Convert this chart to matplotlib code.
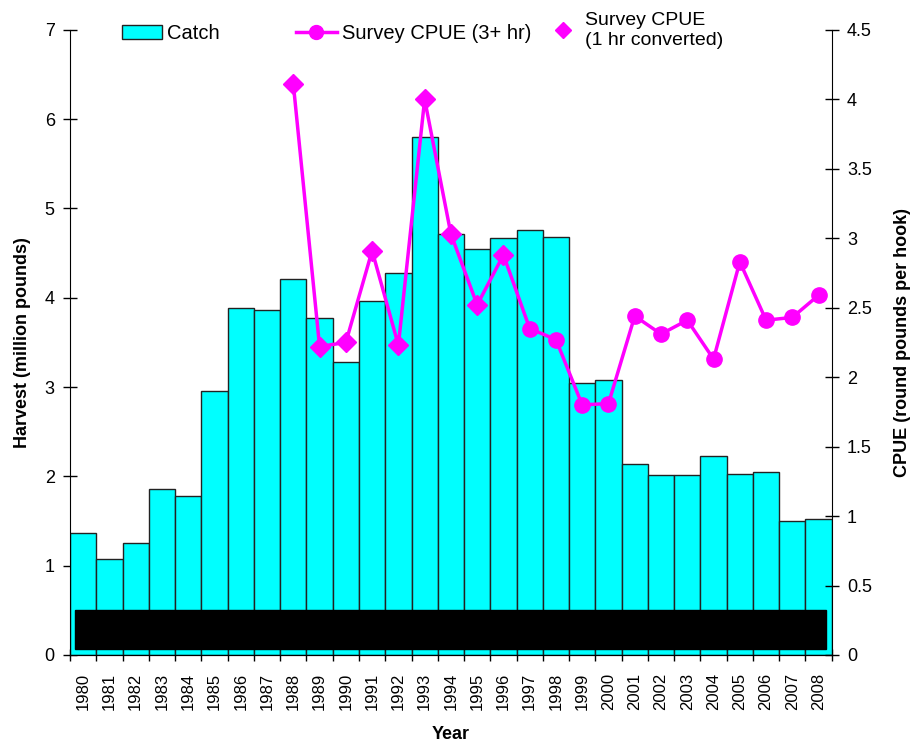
import numpy as np
import matplotlib
matplotlib.use("Agg")
import matplotlib.pyplot as plt
from matplotlib.patches import Rectangle
from matplotlib.lines import Line2D

plt.rcParams['font.family'] = ['Liberation Sans', 'DejaVu Sans']

years = list(range(1980, 2009))
catch = [1.37, 1.07, 1.25, 1.86, 1.78, 2.96, 3.89, 3.86, 4.21, 3.77,
         3.28, 3.96, 4.28, 5.80, 4.71, 4.55, 4.67, 4.76, 4.68, 3.05,
         3.08, 2.14, 2.02, 2.02, 2.23, 2.03, 2.05, 1.50, 1.52]

# survey CPUE, 1 hr sets converted (1988-1996)
conv_years = list(range(1988, 1997))
cpue_conv = [4.11, 2.22, 2.25, 2.91, 2.23, 4.00, 3.03, 2.52, 2.88]

# survey CPUE, 3+ hr sets (1997-2008)
long_years = list(range(1997, 2009))
cpue_long = [2.35, 2.27, 1.80, 1.81, 2.44, 2.31, 2.41, 2.13, 2.83, 2.41, 2.43, 2.59]

magenta = '#ff00ff'

fig = plt.figure(figsize=(9.1, 7.46), dpi=100)
ax = fig.add_axes([0.077, 0.122, 0.837, 0.838])
x = np.arange(len(years))
ax.bar(x, catch, width=1.0, color='#00ffff', edgecolor='#222222', linewidth=1.0, zorder=2)

# black block across the bottom of the bars
ax.add_patch(Rectangle((-0.3, 0.07), len(years) - 0.4, 0.43, facecolor='black',
                       edgecolor='black', zorder=3))

ax.set_xlim(-0.5, len(years) - 0.5)
ax.set_ylim(0, 7)
ax.set_yticks(range(0, 8))
ax.set_xticks(x)
ax.set_xticklabels([str(y) for y in years], rotation=90)
ax.set_xticks(np.arange(-0.5, len(years)), minor=True)
ax.tick_params(axis='x', which='major', length=0, labelsize=12, pad=13)
ax.tick_params(axis='x', which='minor', length=8, direction='inout', width=1)
ax.tick_params(axis='y', length=10, direction='inout', labelsize=13, pad=6, width=1)
ax.spines['top'].set_visible(False)
ax.spines['right'].set_visible(False)
ax.set_ylabel('Harvest (million pounds)', fontsize=13, fontweight='bold', labelpad=10)
ax.set_xlabel('Year', fontsize=13, fontweight='bold', labelpad=11)

ax2 = ax.twinx()
ax2.set_ylim(0, 4.5)
ax2.set_yticks(np.arange(0, 4.51, 0.5))
ax2.set_yticklabels(['0', '0.5', '1', '1.5', '2', '2.5', '3', '3.5', '4', '4.5'])
ax2.tick_params(axis='y', length=10, direction='inout', labelsize=13, pad=6, width=1)
ax2.spines['top'].set_visible(False)
ax2.spines['left'].set_visible(False)
ax2.set_ylabel('CPUE (round pounds per hook)', fontsize=13, fontweight='bold', labelpad=16)

all_years = conv_years + long_years
all_cpue = cpue_conv + cpue_long
xi = [years.index(y) for y in all_years]
ax2.plot(xi, all_cpue, color=magenta, linewidth=2.5, zorder=4)
ax2.plot([years.index(y) for y in conv_years], cpue_conv, linestyle='none',
         marker='D', markersize=10, color=magenta, zorder=5)
ax2.plot([years.index(y) for y in long_years], cpue_long, linestyle='none',
         marker='o', markersize=11, color=magenta, zorder=5)

handles = [
    Rectangle((0, 0), 1, 1, facecolor='#00ffff', edgecolor='#222222'),
    Line2D([], [], color=magenta, linewidth=2.5, marker='o', markersize=10),
]
fig.legend(handles, ['Catch', 'Survey CPUE (3+ hr)'], loc='center left',
           bbox_to_anchor=(0.114, 0.955), ncol=2, frameon=False, fontsize=14.5,
           columnspacing=3.8, handlelength=2.0, handletextpad=0.25)
fig.legend([Line2D([], [], color=magenta, linestyle='none', marker='D', markersize=8)],
           ['Survey CPUE\n(1 hr converted)'], loc='center left',
           bbox_to_anchor=(0.589, 0.959), frameon=False, fontsize=14,
           handlelength=1.0, handletextpad=0.6, labelspacing=0.1)

fig.savefig('out.png', dpi=100)
